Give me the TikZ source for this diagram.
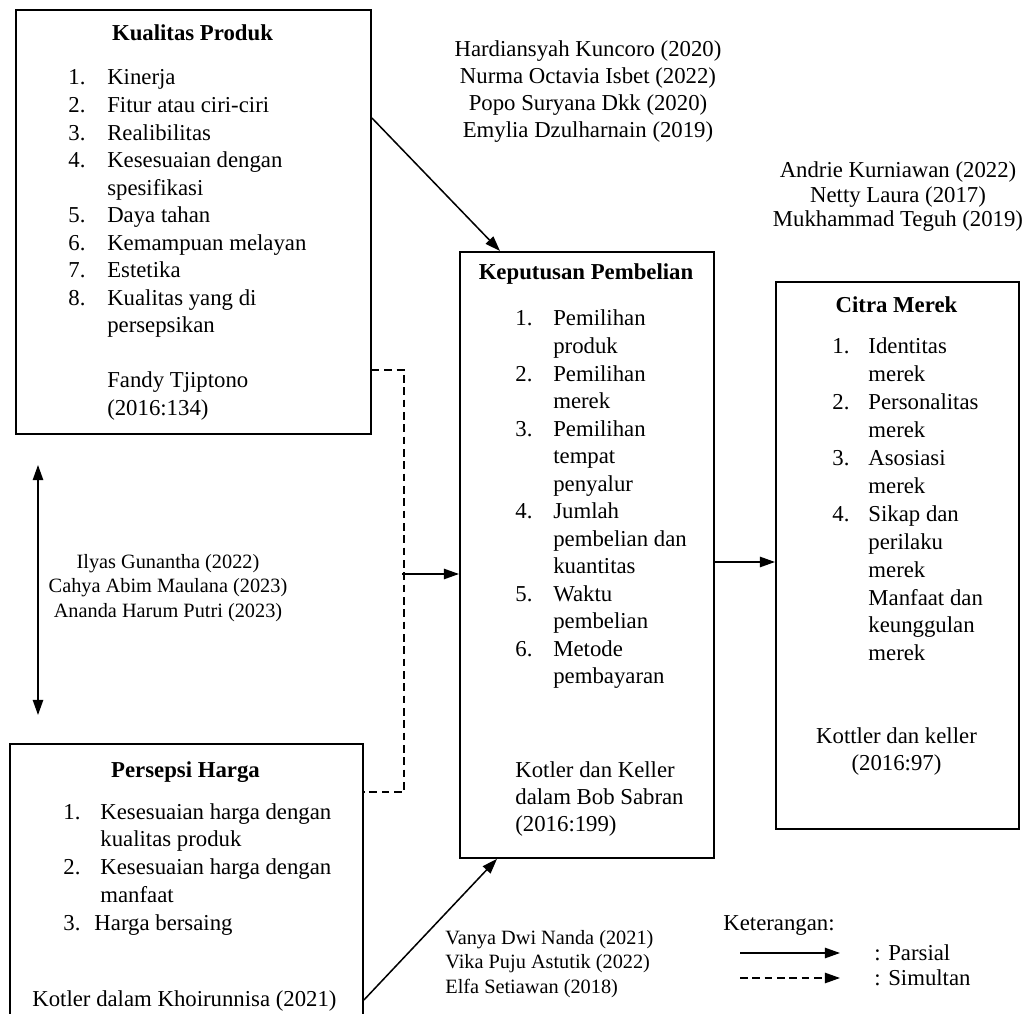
\documentclass[tikz,border=0pt]{standalone}
\usepackage{fontspec}
\setmainfont{Liberation Serif}
\usetikzlibrary{arrows.meta,positioning}
\newlength{\pxl}
\setlength{\pxl}{0.527pt}
\tikzset{
    % Kotak variabel
    kotak/.style={
        rectangle,
        draw=black,
        line width=1pt,
        anchor=north west,
        inner sep=0pt
    },
    judul/.style={
        inner sep=0pt,
        font=\fontsize{12}{14.5}\selectfont\bfseries
    },
    daftar/.style={
        anchor=base west,
        inner sep=0pt,
        font=\fontsize{12}{14.5}\selectfont
    },
    sumber/.style={
        align=center,
        inner sep=0pt,
        font=\fontsize{12}{14.2}\selectfont
    },
    sumber kecil/.style={
        inner sep=0pt,
        font=\fontsize{10.7}{13}\selectfont
    },
    panah/.style={
        -{Triangle[length=8pt,width=5.5pt]},
        line width=0.8pt
    },
    panah dua/.style={
        {Triangle[length=8pt,width=5.5pt]}-{Triangle[length=8pt,width=5.5pt]},
        line width=0.8pt
    },
    garis putus/.style={
        line width=0.8pt,
        dash pattern=on 4pt off 2.5pt
    },
    panah putus/.style={
        panah,
        dash pattern=on 4pt off 2.5pt
    }
}

\begin{document}
\begin{tikzpicture}[x=0.527pt, y=-0.527pt]
    \useasboundingbox (0,0) rectangle (1027,1014);
    \clip (0,0) rectangle (1027,1014);

    % Kualitas Produk
    \node[kotak, minimum width=355\pxl, minimum height=424\pxl] (kp) at (15,9) {};
    \node[judul] (kp judul) at (192.5,33) {Kualitas Produk};
    \node[daftar] (kp isi) at (68,85) {\begin{tabular}[t]{@{}p{20.5pt}@{}l@{}}
        1. & Kinerja\\
        2. & Fitur atau ciri-ciri\\
        3. & Realibilitas\\
        4. & Kesesuaian dengan\\
           & spesifikasi\\
        5. & Daya tahan\\
        6. & Kemampuan melayan\\
        7. & Estetika\\
        8. & Kualitas yang di\\
           & persepsikan\\
           & \\
           & Fandy Tjiptono\\
           & (2016:134)
    \end{tabular}};

    % Keputusan Pembelian
    \node[kotak, minimum width=254\pxl, minimum height=606\pxl] (kk) at (459,251) {};
    \node[judul] (kk judul) at (586,274) {Keputusan Pembelian};
    \node[daftar] (kk isi) at (515,326) {\begin{tabular}[t]{@{}p{20pt}@{}l@{}}
        1. & Pemilihan\\
           & produk\\
        2. & Pemilihan\\
           & merek\\
        3. & Pemilihan\\
           & tempat\\
           & penyalur\\
        4. & Jumlah\\
           & pembelian dan\\
           & kuantitas\\
        5. & Waktu\\
           & pembelian\\
        6. & Metode\\
           & pembayaran
    \end{tabular}};
    \node[daftar, align=left, font=\fontsize{12}{14}\selectfont] (kk sumber) at (515,831) {Kotler dan Keller\\dalam Bob Sabran\\(2016:199)};

    % Citra Merek
    \node[kotak, minimum width=243\pxl, minimum height=547\pxl] (cm) at (775,281) {};
    \node[judul] (cm judul) at (896.5,305) {Citra Merek};
    \node[daftar, font=\fontsize{12}{14.7}\selectfont] (cm isi) at (832,354) {\begin{tabular}[t]{@{}p{19pt}@{}l@{}}
        1. & Identitas\\
           & merek\\
        2. & Personalitas\\
           & merek\\
        3. & Asosiasi\\
           & merek\\
        4. & Sikap dan\\
           & perilaku\\
           & merek\\
           & Manfaat dan\\
           & keunggulan\\
           & merek
    \end{tabular}};
    \node[sumber] (cm sumber) at (896.5,751.5) {Kottler dan keller\\(2016:97)};

    % Persepsi Harga
    \node[kotak, minimum width=353\pxl, minimum height=300\pxl] (ph) at (9,743) {};
    \node[judul] (ph judul) at (185.5,772) {Persepsi Harga};
    \node[daftar, font=\fontsize{12}{14.75}\selectfont] (ph isi) at (63,819) {\begin{tabular}[t]{@{}p{19.5pt}@{}l@{}}
        1. & Kesesuaian harga dengan\\
           & kualitas produk\\
        2. & Kesesuaian harga dengan\\
           & manfaat\\
        \multicolumn{2}{@{}l@{}}{3.\hspace{7.4pt}Harga bersaing}
    \end{tabular}};
    \node[daftar] (ph sumber) at (32,1006) {Kotler dalam Khoirunnisa (2021)};

    % Sumber penelitian terdahulu
    \node[sumber] (ref kp) at (588,91.5) {Hardiansyah Kuncoro (2020)\\Nurma Octavia Isbet (2022)\\Popo Suryana Dkk (2020)\\Emylia Dzulharnain (2019)};
    \node[sumber, font=\fontsize{12}{12.9}\selectfont] (ref cm) at (898,197) {Andrie Kurniawan (2022)\\Netty Laura (2017)\\Mukhammad Teguh (2019)};
    \node[sumber kecil, align=center] (ref ilyas) at (168,588) {Ilyas Gunantha (2022)\\Cahya Abim Maulana (2023)\\Ananda Harum Putri (2023)};
    \node[sumber kecil, align=left, anchor=west] (ref ph) at (445,964) {Vanya Dwi Nanda (2021)\\Vika Puju Astutik (2022)\\Elfa Setiawan (2018)};

    % Hubungan parsial
    \draw[panah] ([yshift=-109\pxl]kp.north east) -- ([xshift=41\pxl]kk.north west);
    \draw[panah] ([yshift=-257\pxl]ph.north east) -- ([xshift=38\pxl]kk.south west);
    \draw[panah] ([yshift=-281\pxl]cm.north west -| kk.east) -- ([yshift=-281\pxl]cm.north west);

    % Hubungan simultan
    \draw[garis putus] ([yshift=-361\pxl]kp.north east) -- ++(32,0) |- ([yshift=-49\pxl]ph.north east);
    \coordinate (cabang) at (402,574);
    \draw[panah] (cabang) -- (cabang -| kk.west);

    % Hubungan antar variabel bebas
    \coordinate (hubung atas) at (38,465);
    \coordinate (hubung bawah) at (38,715);
    \draw[panah dua] (hubung atas) -- (hubung bawah);

    % Keterangan
    \node[daftar, anchor=west] (ket) at (723,925) {Keterangan:};
    \coordinate (parsial awal) at (740,953);
    \coordinate (parsial akhir) at (840,953);
    \coordinate (simultan awal) at (740,978);
    \coordinate (simultan akhir) at (840,978);
    \draw[panah] (parsial awal) -- (parsial akhir);
    \draw[panah putus] (simultan awal) -- (simultan akhir);
    \node[daftar, anchor=west] (ket parsial) at (874,953) {: Parsial};
    \node[daftar, anchor=west] (ket simultan) at (874,978) {: Simultan};
\end{tikzpicture}
\end{document}
